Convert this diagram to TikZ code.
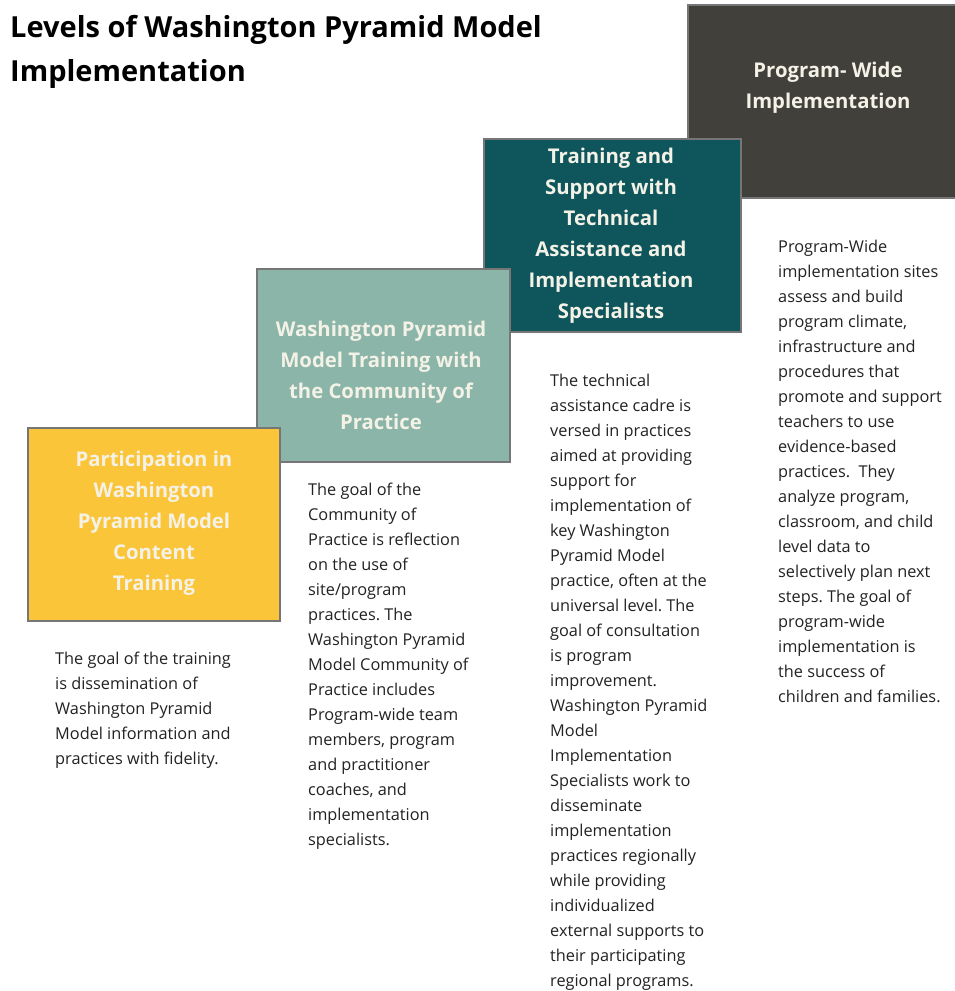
\documentclass[tikz,border=0pt]{standalone}
\usepackage{fontspec}
\setmainfont{Open Sans}
\usepackage{tikz}
\usetikzlibrary{positioning}
\frenchspacing

\definecolor{stepone}{HTML}{FBC53A}
\definecolor{steptwo}{HTML}{8BB5A9}
\definecolor{stepthree}{HTML}{0E555C}
\definecolor{stepfour}{HTML}{41403B}
\definecolor{titletext}{HTML}{F4F2E7}
\definecolor{boxedge}{HTML}{767676}
\definecolor{bodytext}{HTML}{222222}

\tikzset{
  levelbox/.style = {rectangle, draw = boxedge, line width = 1.5pt, fill = #1,
    anchor = north west, inner sep = 0pt, minimum height = 193pt},
  leveltitle/.style = {align = center, inner sep = 0pt, text = titletext,
    font = \fontsize{20.3}{31}\selectfont\bfseries},
  leveltext/.style = {align = left, anchor = north west, inner sep = 0pt,
    text = bodytext, font = \fontsize{16.3}{25}\selectfont}
}

\begin{document}
\begin{tikzpicture}[x = 1pt, y = -1pt]
\useasboundingbox[fill = white] (0,0) rectangle (954,991);

% heading
\node[anchor = north west, inner sep = 0pt, align = left,
  font = \fontsize{29}{44}\selectfont\bfseries] (heading) at (10,15)
  {Levels of Washington Pyramid Model\\Implementation};

% the four steps, back to front
\node[levelbox = stepfour, minimum width = 282pt] (wide) at (687,4) {};
\node[levelbox = stepthree, minimum width = 257pt] (support) at (483,138) {};
\node[levelbox = steptwo, minimum width = 253pt] (community) at (256,268) {};
\node[levelbox = stepone, minimum width = 252pt] (content) at (27,427) {};

\node[leveltitle] (wide title) at (828,88) {Program- Wide\\Implementation};
\node[leveltitle] (support title) at (611,236) {Training and\\Support with\\Technical\\Assistance and\\Implementation\\Specialists};
\node[leveltitle] (community title) at (381,375) {Washington Pyramid\\Model Training with\\the Community of\\Practice};
\node[leveltitle] (content title) at (154,523) {Participation in\\Washington\\Pyramid Model\\Content\\Training};

% descriptions under each step
\node[leveltext] (content text) at (55,652)
  {The goal of the training\\is dissemination of\\Washington Pyramid\\Model information and\\practices with fidelity.};
\node[leveltext] (community text) at (308,483)
  {The goal of the\\Community of\\Practice is reflection\\on the use of\\site/program\\practices. The\\Washington Pyramid\\Model Community of\\Practice includes\\Program-wide team\\members, program\\and practitioner\\coaches, and\\implementation\\specialists.};
\node[leveltext] (support text) at (550,374)
  {The technical\\assistance cadre is\\versed in practices\\aimed at providing\\support for\\implementation of\\key Washington\\Pyramid Model\\practice, often at the\\universal level. The\\goal of consultation\\is program\\improvement.\\Washington Pyramid\\Model\\Implementation\\Specialists work to\\disseminate\\implementation\\practices regionally\\while providing\\individualized\\external supports to\\their participating\\regional programs.};
\node[leveltext] (wide text) at (778,240)
  {Program-Wide\\implementation sites\\assess and build\\program climate,\\infrastructure and\\procedures that\\promote and support\\teachers to use\\evidence-based\\practices.\ \ They\\analyze program,\\classroom, and child\\level data to\\selectively plan next\\steps. The goal of\\program-wide\\implementation is\\the success of\\children and families.};
\end{tikzpicture}
\end{document}
